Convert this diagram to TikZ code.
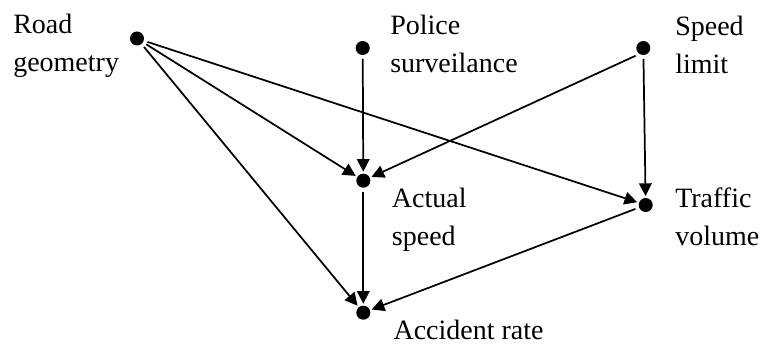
\documentclass[tikz,border=0pt]{standalone}
\usepackage{fontspec}
\setmainfont{Liberation Serif}
\usepackage{xcolor}
\usepackage{tikz}
\usetikzlibrary{arrows.meta}

\tikzset{
  dot/.style={circle,fill=black,inner sep=0pt,minimum size=10.5pt,outer sep=3pt},
  lbl/.style={anchor=north west,inner sep=0.75pt,align=left,font=\fontsize{21}{28.5}\selectfont},
  arr/.style={line width=1.3pt,-{Triangle[length=9.5pt,width=9.5pt]},shorten >=-1.5pt}
}

\begin{document}
\begin{tikzpicture}[x=0.75pt,y=0.75pt,yscale=-1,xscale=1]
            \useasboundingbox (0,0) rectangle (763,345); %set diagram size 763 x 345

            %Shape: Circle [id:road]
            \node [dot] (road) at (137,38.5) {};
            %Shape: Circle [id:police]
            \node [dot] (police) at (362.7,48) {};
            %Shape: Circle [id:limit]
            \node [dot] (limit) at (643.3,48) {};
            %Shape: Circle [id:speed]
            \node [dot] (speed) at (363.3,180.7) {};
            %Shape: Circle [id:volume]
            \node [dot] (volume) at (645.7,205) {};
            %Shape: Circle [id:rate]
            \node [dot] (rate) at (363.3,312.7) {};

            %Straight Lines [id:road-speed]
            \draw [arr]   (road) -- (speed) ;
            %Straight Lines [id:road-volume]
            \draw [arr]   (road) -- (volume) ;
            %Straight Lines [id:road-rate]
            \draw [arr]   (road) -- (rate) ;
            %Straight Lines [id:police-speed]
            \draw [arr]   (police) -- (speed) ;
            %Straight Lines [id:limit-speed]
            \draw [arr]   (limit.south west) -- (speed) ;
            %Straight Lines [id:limit-volume]
            \draw [arr]   (limit) -- (volume) ;
            %Straight Lines [id:speed-rate]
            \draw [arr]   (speed) -- (rate) ;
            %Straight Lines [id:volume-rate]
            \draw [arr]   (volume) -- (rate) ;

            % Text Node
            \node [lbl] (roadtxt) at (12,12.7) {Road\\geometry};
            % Text Node
            \node [lbl] (policetxt) at (389,14) {Police\\surveilance};
            % Text Node
            \node [lbl] (limittxt) at (674,14.7) {Speed\\limit};
            % Text Node
            \node [lbl] (speedtxt) at (390.7,186.4) {Actual\\speed};
            % Text Node
            \node [lbl] (volumetxt) at (674,186.4) {Traffic\\volume};
            % Text Node
            \node [lbl] (ratetxt) at (392.3,318.9) {Accident rate};
\end{tikzpicture}
\end{document}
